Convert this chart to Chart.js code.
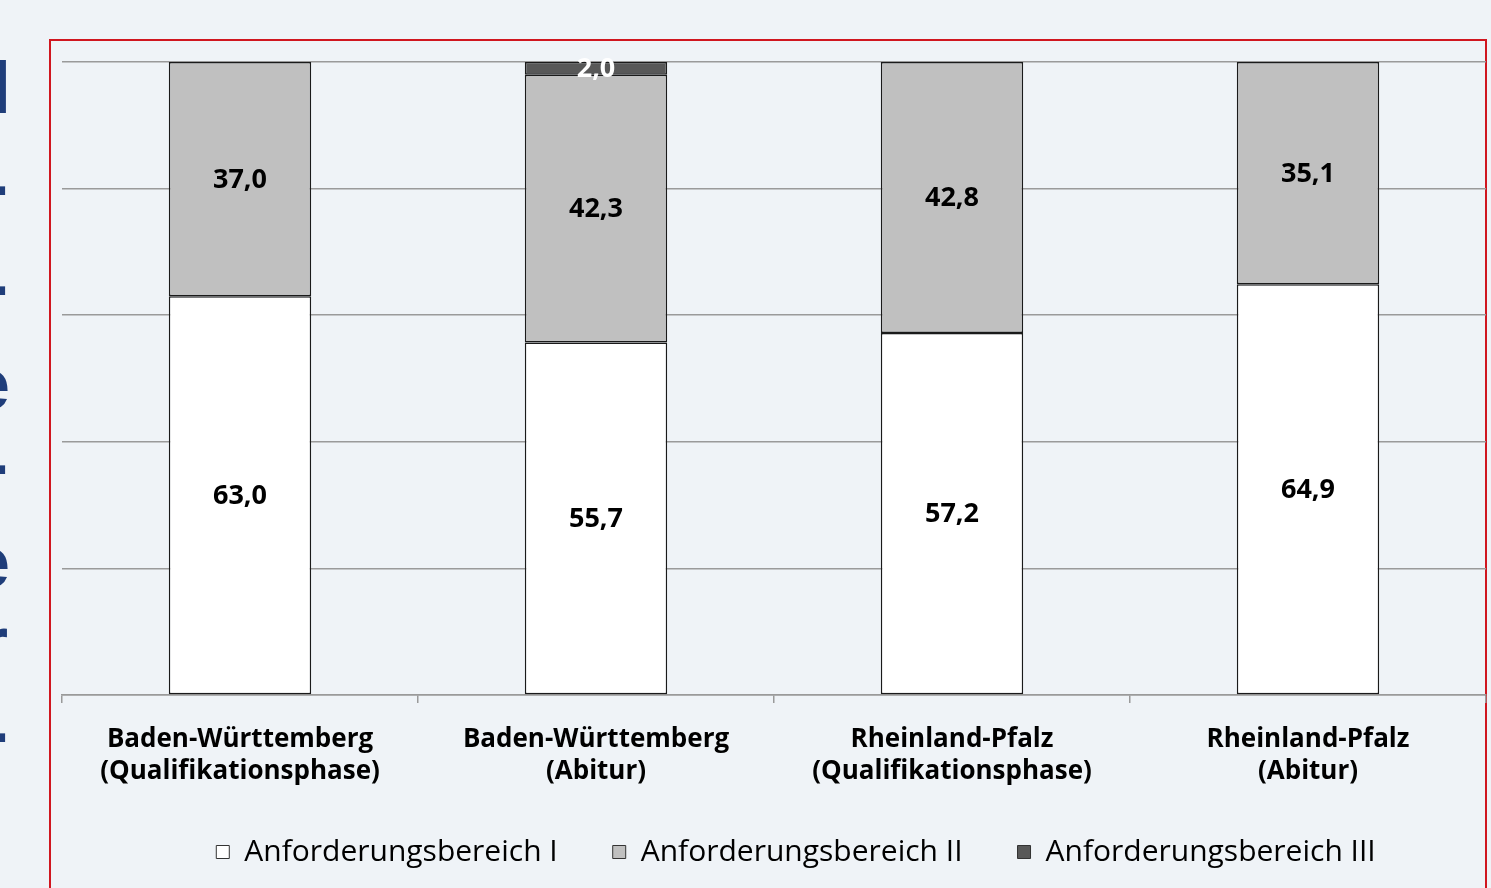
<!DOCTYPE html>
<html><head><meta charset="utf-8">
<script src="https://cdn.jsdelivr.net/npm/chart.js@4/dist/chart.umd.min.js"></script>
<style>
html,body{margin:0;padding:0;background:#eff3f7;width:1491px;height:888px;overflow:hidden;font-family:"Open Sans",sans-serif}
#frame{position:absolute;left:49px;top:39px;width:1438px;height:900px;border:2px solid #d0161f;box-sizing:border-box}
#wrap{position:absolute;left:0;top:0;width:1491px;height:888px}
#side{position:absolute;left:0;top:0;width:8px;height:888px;overflow:hidden}
#side span{position:absolute;color:#1f3d7a;font-family:"Liberation Sans",sans-serif;font-weight:bold;font-size:72px;line-height:1;white-space:nowrap}
</style></head><body>
<div id="side">
<span style="left:-9px;top:52px">l</span>
<span style="left:-16px;top:148px">-</span>
<span style="left:-16px;top:248px">-</span>
<span style="left:-30px;top:348px">e</span>
<span style="left:-16px;top:427px">-</span>
<span style="left:-30px;top:526px">e</span>
<span style="left:-20px;top:606px">r</span>
<span style="left:-16px;top:695px">-</span>
</div>
<div id="frame"></div>
<div id="wrap"><canvas id="c" width="1491" height="888"></canvas></div>
<script>
const categories = [
  ["Baden-Württemberg", "(Qualifikationsphase)"],
  ["Baden-Württemberg", "(Abitur)"],
  ["Rheinland-Pfalz", "(Qualifikationsphase)"],
  ["Rheinland-Pfalz", "(Abitur)"]
];
const seriesNames = ["Anforderungsbereich I", "Anforderungsbereich II", "Anforderungsbereich III"];
const bereichI = [63.0, 55.7, 57.2, 64.9];
const bereichII = [37.0, 42.3, 42.8, 35.1];
const bereichIII = [null, 2.0, null, null];
const yTicks = [0, 20, 40, 60, 80, 100];

const labelPlugin = {
  id: 'segLabels',
  beforeDraw(chart) {
    const lg = chart.legend;
    if (lg) {
      const pad = chart.options.plugins.legend.labels.padding;
      const h = lg.height;
      lg.left = 106; lg.right = 1486;
      lg.top = 852 - pad - 15;
      lg.bottom = lg.top + h;
    }
  },
  afterDatasetsDraw(chart) {
    const ctx = chart.ctx;
    ctx.save();
    ctx.textAlign = 'center';
    ctx.textBaseline = 'middle';
    ctx.font = 'bold 27px "Open Sans", sans-serif';
    chart.data.datasets.forEach((ds, di) => {
      const meta = chart.getDatasetMeta(di);
      meta.data.forEach((el, i) => {
        const v = ds.data[i];
        if (v === null || v === undefined) return;
        const p = el.getProps(['x', 'y', 'base'], true);
        ctx.fillStyle = ds.labelColor;
        ctx.fillText(v.toFixed(1).replace('.', ','), p.x, (p.y + p.base) / 2 + 1);
      });
    });
    ctx.restore();
  }
};

new Chart(document.getElementById('c'), {
  type: 'bar',
  data: {
    labels: categories,
    datasets: [
      {label: seriesNames[0], data: bereichI, backgroundColor: '#ffffff', borderColor: '#1a1a1a', borderWidth: 1.5, labelColor: '#000000'},
      {label: seriesNames[1], data: bereichII, backgroundColor: '#c0c0c0', borderColor: '#1a1a1a', borderWidth: 1.5, labelColor: '#000000'},
      {label: seriesNames[2], data: bereichIII, backgroundColor: '#585858', borderColor: '#1a1a1a', borderWidth: 1.5, labelColor: '#ffffff'}
    ]
  },
  options: {
    responsive: false,
    animation: false,
    events: [],
    layout: {padding: {left: 62, top: 62, right: 5, bottom: 0}},
    datasets: {bar: {categoryPercentage: 1.0, barPercentage: 0.4, borderSkipped: false}},
    scales: {
      x: {
        stacked: true,
        offset: true,
        grid: {offset: true, drawOnChartArea: false, drawTicks: true, tickLength: 8, color: '#9a9a9a', lineWidth: 1.5},
        border: {display: true, color: '#9a9a9a', width: 1.5},
        ticks: {color: '#000000', font: {family: 'Open Sans', weight: 'bold', size: 26, lineHeight: 1.23}, padding: 21, maxRotation: 0, autoSkip: false},
        afterFit(s) { s.height = 98; }
      },
      y: {
        stacked: true,
        min: 0, max: 100,
        afterBuildTicks(s) { s.ticks = yTicks.map(v => ({value: v})); },
        grid: {color: '#9a9a9a', lineWidth: 1.5, drawTicks: false},
        border: {display: false},
        ticks: {display: false},
        afterFit(s) { s.width = 0; }
      }
    },
    plugins: {
      legend: {
        position: 'bottom',
        labels: {
          color: '#000000',
          font: {family: 'Open Sans', size: 30},
          boxWidth: 13, boxHeight: 13, padding: 55,
          generateLabels(chart) {
            return chart.data.datasets.map((ds, i) => ({
              text: ds.label, fillStyle: ds.backgroundColor, strokeStyle: '#333333', lineWidth: 1, datasetIndex: i, fontColor: '#000000'
            }));
          }
        }
      },
      tooltip: {enabled: false}
    }
  },
  plugins: [labelPlugin]
});
</script>
</body></html>
